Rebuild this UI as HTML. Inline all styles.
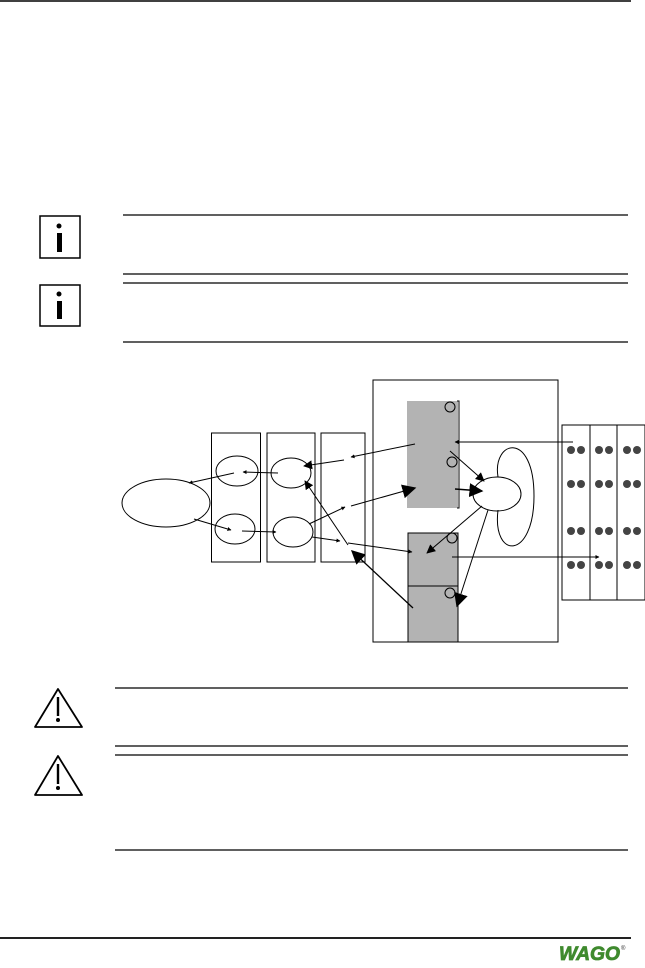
<!DOCTYPE html>
<html><head><meta charset="utf-8"><style>html,body{margin:0;padding:0;background:#fff}svg{display:block}</style></head>
<body>
<svg width="645" height="968" viewBox="0 0 645 968" xmlns="http://www.w3.org/2000/svg" font-family="Liberation Sans, sans-serif">
<defs>
<marker id="a" viewBox="0 0 10 10" refX="9" refY="5" markerWidth="4" markerHeight="4" orient="auto"><path d="M0,0L10,5L0,10z" fill="#000"/></marker>
<marker id="b" viewBox="0 0 10 10" refX="9" refY="5" markerWidth="9" markerHeight="9" markerUnits="userSpaceOnUse" orient="auto"><path d="M0,0L10,5L0,10z" fill="#000"/></marker>
<marker id="c" viewBox="0 0 10 10" refX="9" refY="5" markerWidth="14" markerHeight="14" markerUnits="userSpaceOnUse" orient="auto"><path d="M0,0L10,5L0,10z" fill="#000"/></marker>
</defs>
<line x1="0" y1="1" x2="631" y2="1" stroke="#000" stroke-width="1.5"/>
<g stroke="#000" stroke-width="1.5" fill="none">
<rect x="40" y="216" width="40" height="42"/><rect x="40" y="285" width="40" height="41"/>
</g>
<circle cx="59" cy="226" r="2.5"/><rect x="57" y="233" width="5" height="19"/>
<circle cx="59" cy="294" r="2.5"/><rect x="57" y="301" width="5" height="18"/>
<g stroke="#000" stroke-width="1.2">
<line x1="123" y1="215" x2="628" y2="215"/><line x1="123" y1="274" x2="628" y2="274"/>
<line x1="123" y1="283" x2="628" y2="283"/><line x1="123" y1="342" x2="628" y2="342"/>
<line x1="115" y1="688" x2="628" y2="688"/><line x1="115" y1="746" x2="628" y2="746"/>
<line x1="115" y1="755" x2="628" y2="755"/><line x1="115" y1="850" x2="628" y2="850"/>
</g>
<g stroke="#000" stroke-width="1.8" fill="none" stroke-linejoin="round">
<path d="M58,689L82,727L35,727Z"/><path d="M58,756L82,795L35,795Z"/>
<line x1="58" y1="697" x2="58" y2="716" stroke-width="2.4"/><line x1="58" y1="764" x2="58" y2="784" stroke-width="2.4"/>
</g>
<circle cx="58" cy="720" r="2"/><circle cx="58" cy="788" r="2"/>
<g stroke="#000" stroke-width="1" fill="none">
<rect x="373" y="380" width="185" height="262"/>
<rect x="407" y="401" width="51" height="107" fill="#b3b3b3" stroke="none"/>
<path d="M457,401H459V508H457"/>
<rect x="408" y="533" width="50" height="109" fill="#b3b3b3"/>
<line x1="408" y1="586" x2="458" y2="586"/>
<circle cx="450" cy="407" r="5"/><circle cx="452" cy="462" r="5"/>
<circle cx="452" cy="538" r="5"/><circle cx="450" cy="593" r="5"/>
<ellipse cx="497" cy="494" rx="24" ry="17"/>
<path d="M498,477 C492,440 534,430 534,496 C534,560 492,560 498,510"/>
<rect x="562" y="425" width="83" height="175"/>
<line x1="590" y1="425" x2="590" y2="600"/><line x1="617" y1="425" x2="617" y2="600"/>
<rect x="211.5" y="433" width="49" height="129"/>
<rect x="267" y="433" width="48" height="129"/>
<rect x="321" y="433" width="44" height="129"/>
<ellipse cx="237" cy="471" rx="21" ry="15"/>
<ellipse cx="235" cy="529" rx="20" ry="15"/>
<ellipse cx="291" cy="473" rx="20" ry="15"/>
<ellipse cx="293" cy="532" rx="20" ry="15"/>
<ellipse cx="166" cy="503" rx="44" ry="24"/>
<line x1="573" y1="442" x2="455" y2="442" marker-end="url(#a)"/>
<line x1="450" y1="451" x2="484" y2="481" marker-end="url(#b)"/>
<line x1="455" y1="489" x2="482" y2="491" stroke-width="1.5" marker-end="url(#c)"/>
<line x1="482" y1="506" x2="427" y2="553" marker-end="url(#b)"/>
<line x1="488" y1="510" x2="457" y2="606" marker-end="url(#c)"/>
<line x1="452" y1="557" x2="599" y2="557" marker-end="url(#a)"/>
<line x1="415" y1="444" x2="351" y2="457" marker-end="url(#a)"/>
<line x1="344" y1="460" x2="304" y2="466" marker-end="url(#b)"/>
<line x1="278" y1="473" x2="243" y2="472" marker-end="url(#a)"/>
<line x1="234" y1="473" x2="189" y2="483" marker-end="url(#a)"/>
<line x1="194" y1="519" x2="231" y2="530" marker-end="url(#a)"/>
<line x1="242" y1="531" x2="276" y2="532" marker-end="url(#a)"/>
<line x1="309" y1="524" x2="345" y2="507" marker-end="url(#a)"/>
<line x1="351" y1="506" x2="415" y2="488" marker-end="url(#c)"/>
<line x1="312" y1="537" x2="340" y2="541" marker-end="url(#a)"/>
<line x1="348" y1="543" x2="412" y2="552" marker-end="url(#a)"/>
<line x1="348" y1="545" x2="305" y2="481" marker-end="url(#b)"/>
<line x1="413" y1="608" x2="352" y2="551" stroke-width="1.3" marker-end="url(#c)"/>
</g>
<g fill="#444">
<circle cx="571" cy="450" r="4"/><circle cx="581" cy="450" r="4"/><circle cx="599" cy="450" r="4"/><circle cx="609" cy="450" r="4"/><circle cx="627" cy="450" r="4"/><circle cx="637" cy="450" r="4"/>
<circle cx="571" cy="484" r="4"/><circle cx="581" cy="484" r="4"/><circle cx="599" cy="484" r="4"/><circle cx="609" cy="484" r="4"/><circle cx="627" cy="484" r="4"/><circle cx="637" cy="484" r="4"/>
<circle cx="571" cy="531" r="4"/><circle cx="581" cy="531" r="4"/><circle cx="599" cy="531" r="4"/><circle cx="609" cy="531" r="4"/><circle cx="627" cy="531" r="4"/><circle cx="637" cy="531" r="4"/>
<circle cx="571" cy="565" r="4"/><circle cx="581" cy="565" r="4"/><circle cx="599" cy="565" r="4"/><circle cx="609" cy="565" r="4"/><circle cx="627" cy="565" r="4"/><circle cx="637" cy="565" r="4"/>
</g>
<line x1="0" y1="938" x2="631" y2="938" stroke="#222" stroke-width="2"/>
<text x="559" y="960" font-size="19" font-weight="bold" font-style="italic" fill="#3f8a2e" stroke="#3f8a2e" stroke-width="0.8" textLength="61" lengthAdjust="spacingAndGlyphs">WAGO</text>
<text x="621" y="950" font-size="6" fill="#333">®</text>
</svg>
</body></html>
